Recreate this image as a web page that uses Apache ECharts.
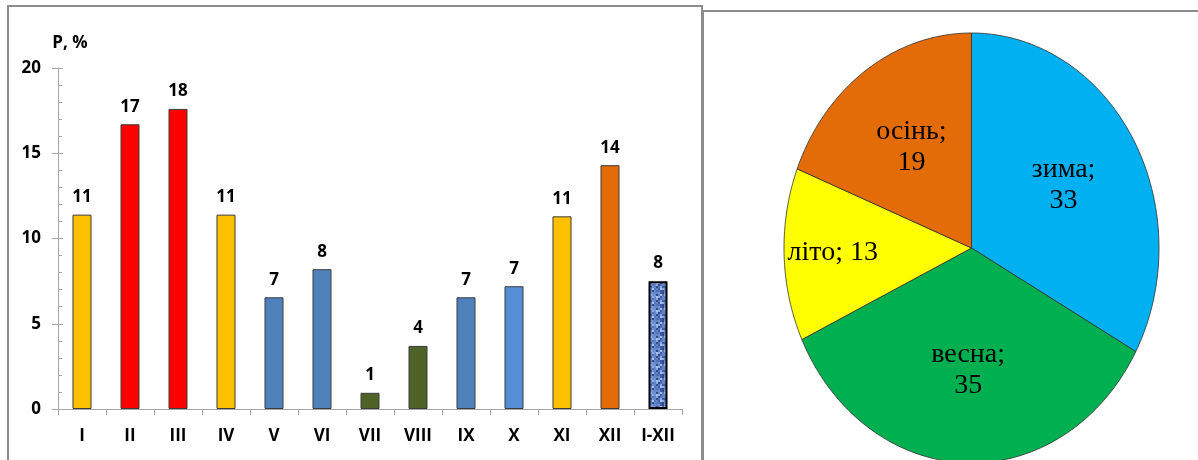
<!DOCTYPE html>
<html>
<head>
<meta charset="utf-8">
<script src="https://cdn.jsdelivr.net/npm/echarts@6/dist/echarts.min.js"></script>
<style>
html,body{margin:0;padding:0;background:#fff;}
#chart{width:1198px;height:460px;}
</style>
</head>
<body>
<div id="chart"></div>
<script>
// ---- data ----
const months = ['I','II','III','IV','V','VI','VII','VIII','IX','X','XI','XII','I-XII'];
const monthValues = [11.4, 16.7, 17.6, 11.4, 6.55, 8.2, 0.95, 3.7, 6.55, 7.2, 11.3, 14.3, 7.5];
const monthColors = ['#FFC000','#FF0000','#FF0000','#FFC000','#4F81BD','#4F81BD','#4F6228','#4F6228','#4F81BD','#558ED5','#FFC000','#E36C09','pattern'];
const yTicks = [0, 5, 10, 15, 20];

const seasonNames = ['зима','весна','літо','осінь'];
const seasonValues = [33, 35, 13, 19];
const seasonColors = ['#00B0F0','#00B050','#FFFF00','#E36C09'];

// ---- mottled texture for the annual bar ----
function makeTexture(){
  const c = document.createElement('canvas');
  c.width = 14; c.height = 14;
  const g = c.getContext('2d');
  g.fillStyle = '#6384C6';
  g.fillRect(0, 0, 14, 14);
  const shades = ['#6384C6','#3E5FA3','#8FAAE0','#5373B8','#2F4D8C','#A9BFEA','#7192D2'];
  for (let y = 0; y < 14; y += 2) {
    for (let x = 0; x < 14; x += 2) {
      const h = ((x * 7 + y * 13 + x * y * 3) ^ (x + 2 * y)) % shades.length;
      g.fillStyle = shades[h];
      g.fillRect(x, y, 2, 2);
    }
  }
  return c;
}
const texture = makeTexture();

const font = '"Open Sans"';
const fs = 17;
const chart = echarts.init(document.getElementById('chart'), null, {renderer:'canvas'});

const barData = monthValues.map((v, i) => {
  const col = monthColors[i];
  if (col === 'pattern') {
    return {value: v, itemStyle: {color: {image: texture, repeat: 'repeat'}, borderColor: '#000', borderWidth: 2}};
  }
  return {value: v, itemStyle: {color: col, borderColor: '#3A3A3A', borderWidth: 1}};
});

// pie slices as fractions
const total = seasonValues.reduce((a, b) => a + b, 0);
let acc = 0;
const pieData = seasonValues.map((v, i) => {
  const s = acc / total; acc += v; const e = acc / total;
  return [s, e, v, i];
});

const axisGray = '#A6A6A6';
const option = {
  backgroundColor: '#fff',
  animation: false,
  grid: [
    {left: 58, top: 68, width: 624, height: 341, containLabel: false, outerBoundsMode: 'none'},
    {left: 784, top: 33, width: 375, height: 430, containLabel: false, outerBoundsMode: 'none'}
  ],
  xAxis: [
    {
      gridIndex: 0, type: 'category', data: months,
      axisLine: {lineStyle: {color: axisGray, width: 1}},
      axisTick: {show: true, length: 6, lineStyle: {color: axisGray}},
      axisLabel: {color: '#000', fontFamily: font, fontWeight: 'bold', fontSize: fs, margin: 19, interval: 0},
      splitLine: {show: false}
    },
    {gridIndex: 1, type: 'value', min: -1, max: 1, show: false}
  ],
  yAxis: [
    {
      gridIndex: 0, type: 'value', min: yTicks[0], max: yTicks[yTicks.length - 1], interval: yTicks[1] - yTicks[0],
      name: 'P, %', nameLocation: 'end', nameGap: 25,
      nameTextStyle: {color: '#000', fontFamily: font, fontWeight: 'bold', fontSize: fs, align: 'center', verticalAlign: 'middle', padding: [0, 0, 0, 24]},
      axisLine: {show: true, lineStyle: {color: axisGray, width: 1}},
      axisTick: {show: true, inside: true, length: 5, lineStyle: {color: axisGray}},
      minorTick: {show: true, splitNumber: 5, length: 4, lineStyle: {color: axisGray}},
      axisLabel: {color: '#000', fontFamily: font, fontWeight: 'bold', fontSize: fs, margin: 17},
      splitLine: {show: false}
    },
    {
      gridIndex: 0, type: 'value', position: 'left', min: yTicks[0], max: yTicks[yTicks.length - 1], interval: yTicks[1] - yTicks[0],
      axisLine: {show: false},
      axisTick: {show: true, inside: false, length: 6, lineStyle: {color: axisGray}},
      axisLabel: {show: false},
      splitLine: {show: false}
    },
    {gridIndex: 1, type: 'value', min: -1, max: 1, show: false}
  ],
  series: [
    {
      type: 'bar', xAxisIndex: 0, yAxisIndex: 0, data: barData, barWidth: 19,
      label: {
        show: true, position: 'top', distance: 9, color: '#000',
        fontFamily: font, fontWeight: 'bold', fontSize: fs,
        formatter: p => String(Math.round(p.value))
      }
    },
    {
      type: 'custom', xAxisIndex: 1, yAxisIndex: 2, coordinateSystem: 'cartesian2d',
      data: pieData,
      renderItem: function (params, api) {
        const s = api.value(0), e = api.value(1), v = api.value(2), idx = api.value(3);
        const n = 90;
        const pts = [api.coord([0, 0])];
        for (let k = 0; k <= n; k++) {
          const t = 2 * Math.PI * (s + (e - s) * k / n);
          pts.push(api.coord([Math.sin(t), Math.cos(t)]));
        }
        const mid = 2 * Math.PI * (s + e) / 2;
        const narrow = (e - s) < 0.15;
        const r = narrow ? 0.74 : 0.57;
        const lp = api.coord([Math.sin(mid) * r, Math.cos(mid) * r]);
        const txt = narrow ? seasonNames[idx] + '; ' + v : seasonNames[idx] + ';\n' + v;
        return {
          type: 'group',
          children: [
            {type: 'polygon', shape: {points: pts}, style: {fill: seasonColors[idx], stroke: '#303030', lineWidth: 0.8}},
            {type: 'text', x: lp[0], y: lp[1], style: {text: txt, align: 'center', verticalAlign: 'middle', fill: '#000', fontFamily: '"Liberation Serif"', fontSize: 28, lineHeight: 31}}
          ]
        };
      }
    }
  ],
  graphic: [
    {type: 'rect', shape: {x: 8, y: 6, width: 694, height: 480}, style: {fill: 'none', stroke: '#8C8C8C', lineWidth: 2}, silent: true},
    {type: 'rect', shape: {x: 703, y: 11, width: 520, height: 480}, style: {fill: 'none', stroke: '#8C8C8C', lineWidth: 2}, silent: true}
  ]
};
chart.setOption(option);
</script>
</body>
</html>
